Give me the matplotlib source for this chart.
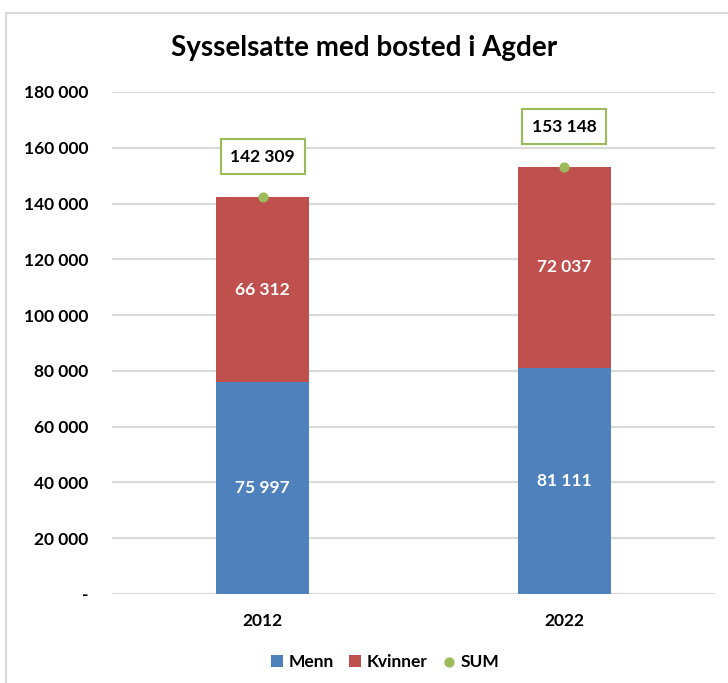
import matplotlib
matplotlib.use("Agg")
import matplotlib.pyplot as plt
from matplotlib.patches import Rectangle
import numpy as np

plt.rcParams["font.family"] = ["Lato", "DejaVu Sans"]

years = ["2012", "2022"]
menn = [75997, 81111]
kvinner = [66312, 72037]
total = [142309, 153148]
yticks = [0, 20000, 40000, 60000, 80000, 100000, 120000, 140000, 160000, 180000]

BLUE = "#4F81BD"
RED = "#C0504D"
GREEN = "#9BBB59"


def fmt(v):
    if v == 0:
        return "-"
    return f"{v:,}".replace(",", " ")


fig = plt.figure(figsize=(7.28, 6.83), dpi=100)
# chart frame, cut off at right and bottom like the screenshot
fig.patches.append(Rectangle((6 / 728, -0.1), 1.2, 1.1 - 13 / 683, transform=fig.transFigure,
                             fill=False, edgecolor="#D9D9D9", linewidth=1.5))
ax = fig.add_axes([112 / 728, 1 - 594 / 683, (715 - 112) / 728, (594 - 92) / 683])

x = np.arange(len(years))
w = 0.31
b1 = ax.bar(x, menn, w, color=BLUE, label="Menn", zorder=3)
b2 = ax.bar(x, kvinner, w, bottom=menn, color=RED, label="Kvinner", zorder=3)
sc = ax.scatter(x, total, s=40, color=GREEN, label="SUM", zorder=4)

for i in range(len(years)):
    ax.text(x[i], menn[i] / 2, fmt(menn[i]), ha="center", va="center",
            color="white", fontsize=12.5, fontweight="bold", zorder=5)
    ax.text(x[i], menn[i] + kvinner[i] / 2, fmt(kvinner[i]), ha="center", va="center",
            color="white", fontsize=12.5, fontweight="bold", zorder=5)
    ax.annotate(fmt(total[i]), (x[i], total[i]), xytext=(0, 29), textcoords="offset points",
                ha="center", va="center", fontsize=12.5, fontweight="bold", zorder=5,
                bbox=dict(boxstyle="square,pad=0.55", facecolor="white",
                          edgecolor=GREEN, linewidth=1.5))

ax.set_xlim(-0.5, 1.5)
ax.set_ylim(0, 180000)
ax.set_yticks(yticks)
ax.set_yticklabels([fmt(v) for v in yticks], fontsize=12.5, fontweight="bold")
ax.set_xticks(x)
ax.set_xticklabels(years, fontsize=12.5, fontweight="bold")
ax.tick_params(axis="y", length=0, pad=17)
ax.tick_params(axis="x", length=0, pad=14)
ax.grid(axis="y", color="#D9D9D9", linewidth=1.5, zorder=0)
for s in ax.spines.values():
    s.set_visible(False)

fig.text(0.5, 1 - 48 / 683, "Sysselsatte med bosted i Agder", ha="center", va="center",
         fontsize=20, fontweight="bold")

fig.legend([b1, b2, sc], ["Menn", "Kvinner", "SUM"], loc="center",
           bbox_to_anchor=(385 / 728, 1 - 662 / 683), ncol=3, frameon=False,
           handlelength=0.7, handleheight=0.7, handletextpad=0.3, columnspacing=0.9,
           prop={"weight": "bold", "size": 12.5})

fig.savefig("out.png", dpi=100, facecolor="white")
